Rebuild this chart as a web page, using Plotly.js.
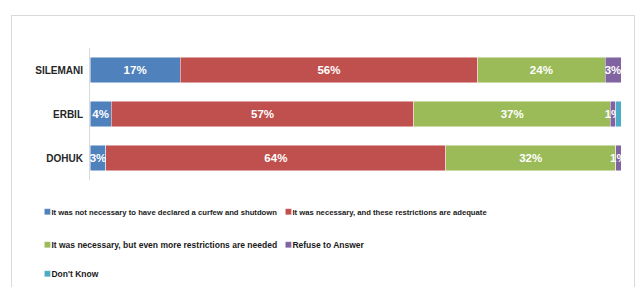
<!DOCTYPE html>
<html><head><meta charset="utf-8">
<script src="https://cdn.plot.ly/plotly-3.0.1.min.js"></script>
<style>
html,body{margin:0;padding:0;background:#fff;}
#wrap{position:relative;width:636px;height:287px;overflow:hidden;}
#chart{width:636px;height:287px;}
#frame{position:absolute;left:11px;top:15px;width:622px;height:300px;border:1px solid #d9d9d9;pointer-events:none;}
</style></head>
<body><div id="wrap"><div id="chart"></div><div id="frame"></div></div>
<script>
const regions = ['SILEMANI','ERBIL','DOHUK'];
const seriesNames = [
  'It was not necessary to have declared a curfew and shutdown',
  'It was necessary, and these restrictions are adequate',
  'It was necessary, but even more restrictions are needed',
  'Refuse to Answer',
  "Don't Know"
];
const notNecessary = [17, 4, 3];
const adequate = [56, 57, 64];
const moreNeeded = [24, 37, 32];
const refuse = [3, 1, 1];
const dontKnow = [0, 1, 0];
const showLabel = [true, true, true, true, false];
const colors = ['#4F81BD','#C0504D','#9BBB59','#8064A2','#4BACC6'];
const legendOf = ['legend','legend','legend2','legend2','legend3'];

const values = [notNecessary, adequate, moreNeeded, refuse, dontKnow];
const traces = values.map((v,i)=>({
  type:'bar', orientation:'h', name:seriesNames[i], y:regions, x:v,
  marker:{color:colors[i], line:{color:'rgba(255,255,255,0.6)', width:0.8}},
  text: showLabel[i] ? v.map(d=>d+'%') : v.map(()=> ''),
  textposition:'inside', insidetextanchor:'middle', constraintext:'none', textangle:0,
  textfont:{family:'Liberation Sans, Arial, sans-serif', size:11.5, color:'#ffffff', weight:'bold'},
  hoverinfo:'none', cliponaxis:true,
  legend: legendOf[i]
}));

const legFontA = {family:'Liberation Sans, Arial, sans-serif', size:7.7, color:'#1a1a1a', weight:'bold'};
const legFontB = {family:'Liberation Sans, Arial, sans-serif', size:8.5, color:'#1a1a1a', weight:'bold'};

const layout = {
  width:636, height:287,
  margin:{l:90, r:15, t:48, b:107, autoexpand:false},
  paper_bgcolor:'#fff', plot_bgcolor:'#fff',
  barmode:'stack', bargap:0.41,
  showlegend:true,
  xaxis:{range:[0,100], showgrid:false, zeroline:false, showticklabels:false, showline:false, fixedrange:true},
  yaxis:{autorange:'reversed', showgrid:false, zeroline:false, showline:true, linecolor:'#d9d9d9', linewidth:1,
    ticks:'', ticklabelstandoff:4,
    tickfont:{family:'Liberation Sans, Arial, sans-serif', size:10, color:'#262626', weight:'bold'}},
  legend:{orientation:'h', x:-0.148, xanchor:'left', y:-0.24, yanchor:'middle', font:legFontA,
    entrywidth:196, entrywidthmode:'pixels', traceorder:'normal', itemclick:false},
  legend2:{orientation:'h', x:-0.148, xanchor:'left', y:-0.49, yanchor:'middle', font:legFontB,
    entrywidth:196, entrywidthmode:'pixels', traceorder:'normal', itemclick:false},
  legend3:{orientation:'h', x:-0.148, xanchor:'left', y:-0.71, yanchor:'middle', font:legFontB,
    entrywidth:196, entrywidthmode:'pixels', traceorder:'normal', itemclick:false}
};

Plotly.newPlot('chart', traces, layout, {displayModeBar:false, staticPlot:true}).then(()=>{
  document.querySelectorAll('.legendpoints path').forEach(p=>{
    p.setAttribute('transform','translate(36,0) scale(0.5)');
  });
});
</script></body></html>
